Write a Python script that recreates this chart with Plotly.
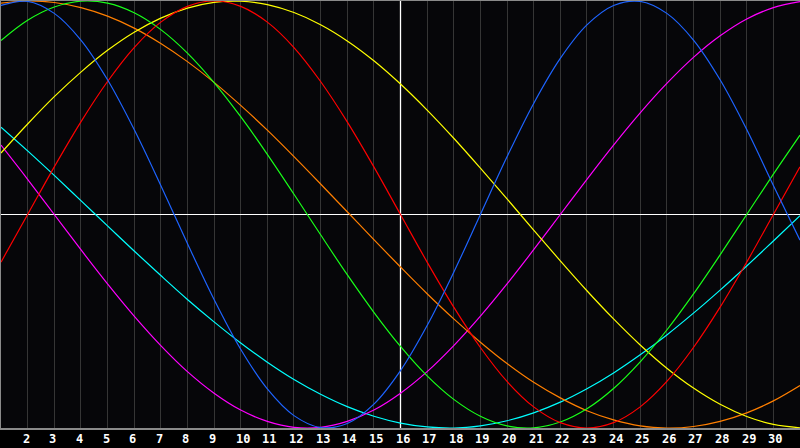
import plotly.graph_objects as go

days = list(range(1, 32))
tick_days = list(range(2, 31))
tick_labels = [str(d) for d in tick_days]

blue = [0.979, 0.998, 0.942, 0.817, 0.631, 0.398, 0.136, -0.136, -0.398, -0.631,
        -0.817, -0.942, -0.998, -0.979, -0.888, -0.731, -0.520, -0.270, 0.0, 0.270,
        0.520, 0.731, 0.888, 0.979, 0.998, 0.942, 0.817, 0.631, 0.398, 0.136, -0.120]
red = [-0.223, 0.0, 0.223, 0.434, 0.623, 0.782, 0.901, 0.975, 1.0, 0.975,
       0.901, 0.782, 0.623, 0.434, 0.223, 0.0, -0.223, -0.434, -0.623, -0.782,
       -0.901, -0.975, -1.0, -0.975, -0.901, -0.782, -0.623, -0.434, -0.223, 0.0, 0.223]
green = [0.815, 0.910, 0.972, 0.999, 0.990, 0.945, 0.866, 0.756, 0.618, 0.458,
         0.282, 0.095, -0.095, -0.282, -0.458, -0.618, -0.756, -0.866, -0.945, -0.990,
         -0.999, -0.972, -0.910, -0.815, -0.690, -0.541, -0.372, -0.189, 0.0, 0.189, 0.372]
yellow = [0.288, 0.424, 0.552, 0.667, 0.769, 0.854, 0.920, 0.967, 0.994, 0.999,
          0.983, 0.946, 0.889, 0.813, 0.720, 0.611, 0.489, 0.357, 0.217, 0.073,
          -0.073, -0.217, -0.357, -0.489, -0.611, -0.720, -0.813, -0.889, -0.946, -0.983, -0.999]
orange = [0.990, 1.0, 0.993, 0.969, 0.929, 0.873, 0.801, 0.716, 0.619, 0.511,
          0.395, 0.271, 0.143, 0.013, -0.118, -0.246, -0.371, -0.489, -0.598, -0.698,
          -0.786, -0.859, -0.919, -0.962, -0.990, -1.0, -0.993, -0.969, -0.929, -0.873, -0.801]
magenta = [0.325, 0.165, 0.0, -0.165, -0.325, -0.476, -0.614, -0.736, -0.837, -0.916,
           -0.969, -0.997, -0.997, -0.969, -0.916, -0.837, -0.736, -0.614, -0.476, -0.325,
           -0.165, 0.0, 0.165, 0.325, 0.476, 0.614, 0.736, 0.837, 0.916, 0.969, 0.997]
cyan = [0.409, 0.298, 0.183, 0.065, -0.053, -0.171, -0.286, -0.398, -0.503, -0.602,
        -0.692, -0.773, -0.842, -0.900, -0.945, -0.977, -0.995, -1.0, -0.990, -0.966,
        -0.929, -0.879, -0.816, -0.742, -0.657, -0.564, -0.462, -0.354, -0.241, -0.124, -0.006]

series = [
    ("cyan", cyan, "#00ffff"),
    ("magenta", magenta, "#ff00ff"),
    ("orange", orange, "#ff7f00"),
    ("yellow", yellow, "#ffff00"),
    ("green", green, "#19ff19"),
    ("red", red, "#ff0000"),
    ("blue", blue, "#1e64ff"),
]

fig = go.Figure()

# white vertical marker line at day 16 (drawn as a trace so it sits under the curves)
fig.add_trace(go.Scatter(x=[16, 16], y=[-1, 1], mode="lines", name="today",
                         line=dict(color="#ffffff", width=1.3), hoverinfo="skip"))

for name, vals, col in series:
    fig.add_trace(go.Scatter(x=days, y=vals, mode="lines", name=name,
                             line=dict(color=col, width=1.2, shape="spline", smoothing=1.0),
                             hoverinfo="skip"))

for d, t in zip(tick_days, tick_labels):
    fig.add_annotation(x=d, y=0, xref="x", yref="paper", text="<b>%s</b>" % t,
                       showarrow=False, xanchor="left", yanchor="middle",
                       xshift=-7, yshift=-11,
                       font=dict(family="DejaVu Sans Mono", size=12, color="#ffffff"))

fig.update_layout(
    width=800, height=448,
    margin=dict(l=1, r=0, t=1, b=20, pad=0),
    paper_bgcolor="#000000",
    plot_bgcolor="#060609",
    showlegend=False,
    xaxis=dict(range=[1, 31], tick0=1, dtick=1, showgrid=True, gridcolor="#353535",
               gridwidth=1, showticklabels=False, ticks="", zeroline=False,
               showline=True, linecolor="#8a8a8a", linewidth=1.5, mirror=True,
               fixedrange=True),
    yaxis=dict(range=[-1, 1], showgrid=False, showticklabels=False, ticks="",
               zeroline=True, zerolinecolor="#ffffff", zerolinewidth=1.2,
               showline=True, linecolor="#8a8a8a", linewidth=1, mirror=False,
               fixedrange=True),
)

fig.write_html("out.html", config={"displayModeBar": False},
               post_script="document.body.style.margin='0';document.body.style.padding='0';document.body.style.background='#000';")
